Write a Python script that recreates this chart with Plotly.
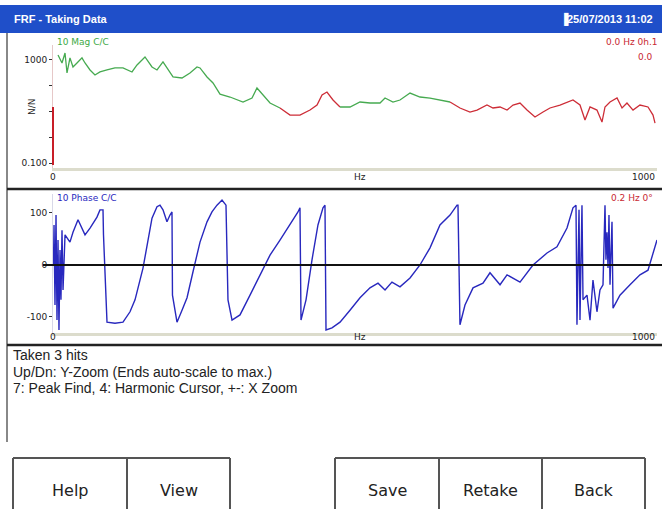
import plotly.graph_objects as go

W, H = 662, 509

# ---------------- data ----------------
mag_freq_hz = [8.3, 14.9, 19.9, 23.2, 28.1, 33.1, 39.7, 48.0, 53.0, 61.3, 69.5, 77.8, 89.4, 102.6,
               115.9, 130.8, 139.1, 152.3, 163.9, 172.2, 182.1, 190.4, 198.7, 213.6, 226.8, 238.4,
               243.4, 255.0, 259.9, 264.9, 276.5, 293.0, 314.6, 329.5, 337.7, 347.7, 359.3, 375.8,
               392.4, 408.9, 425.5, 437.1, 445.4, 453.6, 463.6, 475.2, 491.7, 508.3, 524.8, 541.4,
               549.7, 562.9, 574.5, 591.1, 607.6, 624.2, 640.7, 657.3, 673.8, 690.4, 702.0, 718.5,
               728.5, 740.1, 751.7, 761.6, 773.2, 784.8, 798.0, 811.3, 822.8, 839.4, 851.0, 860.9,
               872.5, 880.8, 889.1, 900.6, 908.9, 913.9, 922.2, 933.8, 942.1, 950.3, 960.3, 971.8,
               985.1, 993.4, 996.7]
mag_values = [1560, 764, 1870, 313, 1200, 535, 764, 1200, 764, 409, 261, 342, 409, 489,
              489, 342, 640, 1310, 535, 409, 836, 409, 219, 200, 313, 535,
              489, 219, 167, 128, 47, 36.6, 23.4, 33.4, 81.8, 43.7, 21.4, 13.7,
              7.31, 7.31, 11.4, 17.9, 43.7, 57.1, 28.0, 15.0, 15.0, 23.4, 21.4, 21.4,
              33.4, 23.4, 28.0, 52, 36.6, 33.4, 28.0, 23.4, 13.7, 9.57, 11.4, 17.9,
              13.7, 15.0, 11.4, 17.9, 21.4, 11.4, 6.11, 9.57, 13.7, 17.9, 23.4, 28.0,
              17.9, 4.68, 15.0, 11.4, 3.91, 15.0, 23.4, 33.4, 13.7, 21.4, 11.4, 17.9,
              15.0, 7.31, 3.57]
# frequency bands where the magnitude is drawn red (low coherence)
mag_red_bands_hz = [(392.4, 475.2), (673.8, 1000.0)]

phase_freq_hz = [0.8, 1.7, 3.3, 5.0, 6.6, 8.3, 9.9, 11.6, 13.2, 14.9, 16.6, 19.9, 28.1, 33.1,
                 41.4, 53.0, 61.3, 72.8, 77.8, 82.8, 83.6, 87.7, 89.4, 102.6, 115.9, 127.5,
                 135.8, 149.0, 157.3, 163.9, 172.2, 177.1, 182.1, 188.7, 193.7, 197.0, 197.8,
                 205.3, 213.6, 221.9, 231.8, 243.4, 255.0, 263.2, 271.5, 279.8, 286.4, 289.7,
                 296.4, 309.6, 326.2, 342.7, 359.3, 375.8, 392.4, 405.6, 408.9, 410.6, 418.9,
                 428.8, 438.7, 447.0, 450.3, 452.0, 461.9, 475.2, 491.7, 508.3, 524.8, 538.1,
                 549.7, 561.2, 574.5, 591.1, 607.6, 624.2, 640.7, 657.3, 668.9, 670.5, 673.8,
                 682.1, 695.4, 711.9, 723.5, 740.1, 751.7, 773.2, 794.7, 817.9, 834.4, 851.0,
                 860.9, 865.9, 867.5, 870.9, 872.5, 875.8, 877.5, 884.1, 889.1, 894.0, 900.6,
                 905.6, 910.6, 913.9, 915.5, 917.2, 918.9, 920.5, 922.2, 925.5, 927.2, 938.7,
                 955.3, 971.8, 985.1, 993.4, 996.7, 1000.0]
phase_deg = [0, 77, -77, 96, -106, 48, -125, 29, -67, 67, -48, 58, 44, 63,
             87, 58, 71, 92, 106, 106, 58, -58, -110, -112, -110, -90,
             -67, -6, 48, 90, 112, 115, 106, 83, 96, 102, -58,
             -110, -87, -63, -13, 44, 83, 102, 115, 125, 115, -67,
             -106, -96, -58, -19, 19, 48, 77, 102, 110, -106, -67,
             10, 77, 110, 115, -125, -121, -110, -87, -63, -44, -35,
             -48, -33, -42, -25, 0, 33, 77, 96, 115, 115, -115,
             -77, -44, -35, -15, -38, -19, -33, 0, 23, 35, 71,
             110, 115, -115, 106, -106, 115, -67, -58, -106, -29, -90,
             -48, -38, 115, 10, 63, -6, 96, -38, 83, -83, -58,
             -38, -19, -10, 25, 38, 48]

mag_label = "10 Mag C/C"
phase_label = "10 Phase C/C"
mag_cursor = ["0.0 Hz 0h.1", "0.0"]
phase_cursor = "0.2 Hz 0\u00b0"
y_unit = "N/N"
title_text = "FRF - Taking Data"
date_text = "25/07/2013 11:02"
info_lines = ["Taken 3 hits",
              "Up/Dn: Y-Zoom (Ends auto-scale to max.)",
              "7: Peak Find, 4: Harmonic Cursor, +-: X Zoom"]
buttons_left = ["Help", "View"]
buttons_right = ["Save", "Retake", "Back"]
x_tick_text = ["0", "Hz", "1000"]

# ---------------- helpers ----------------
def fx(px):
    return px / W

def fy(py):
    return 1 - py / H

def is_red(f):
    return any(a <= f <= b for a, b in mag_red_bands_hz)

fig = go.Figure()
# split magnitude into coloured runs (consecutive runs share their boundary point)
runs = []
cur = None
for i, f in enumerate(mag_freq_hz):
    red = is_red(f)
    if cur is None or cur[0] != red:
        start = [] if cur is None else [(cur[1][-1], cur[2][-1])]
        cur = (red, [p[0] for p in start], [p[1] for p in start])
        runs.append(cur)
    cur[1].append(f)
    cur[2].append(mag_values[i])
for red, xs, ys in runs:
    fig.add_trace(go.Scatter(x=xs, y=ys, mode="lines", xaxis="x", yaxis="y",
                             line=dict(color="rgb(205,45,55)" if red else "rgb(70,170,80)", width=1.3),
                             showlegend=False))
fig.add_trace(go.Scatter(x=phase_freq_hz, y=phase_deg, mode="lines", xaxis="x2", yaxis="y2",
                         line=dict(color="rgb(40,40,190)", width=1.4), showlegend=False))

tickfont = dict(family="DejaVu Sans", size=9, color="#222")

fig.update_layout(
    width=W, height=H, margin=dict(l=0, r=0, t=0, b=0),
    paper_bgcolor="white", plot_bgcolor="white",
    xaxis=dict(domain=[fx(53), fx(657)], range=[0, 1000], anchor="y",
               showgrid=False, zeroline=False, showticklabels=False,
               showline=True, linecolor="#dcdccc", linewidth=3),
    yaxis=dict(domain=[fy(168), fy(45)], type="log", range=[-1.19, 3.58], anchor="x",
               showgrid=False, zeroline=False, showline=True, linecolor="#e6c8c8", linewidth=1,
               tickvals=[1000, 100, 10, 1, 0.1], ticktext=["1000", "", "", "", "0.100"],
               ticks="outside", ticklen=3, tickcolor="#333", tickfont=tickfont),
    xaxis2=dict(domain=[fx(53), fx(657)], range=[0, 1000], anchor="y2",
                showgrid=False, zeroline=False, showticklabels=False,
                showline=True, linecolor="#dcdccc", linewidth=3),
    yaxis2=dict(domain=[fy(333), fy(194)], range=[-130.8, 136.5], anchor="x2",
                showgrid=False, zeroline=False, showline=True, linecolor="#d8d8e8", linewidth=1,
                tickvals=[100, 0, -100], ticktext=["100", "0", "-100"],
                ticks="outside", ticklen=3, tickcolor="#333", tickfont=tickfont),
)

shapes = []
# title bar
shapes.append(dict(type="rect", xref="paper", yref="paper", x0=0, x1=1, y0=fy(33), y1=fy(5),
                   fillcolor="#1f4fc9", line=dict(width=0), layer="below"))
# left border
shapes.append(dict(type="line", xref="paper", yref="paper", x0=fx(7), x1=fx(7), y0=fy(442), y1=fy(33),
                   line=dict(color="#888", width=2)))
# separators
for sy in (189, 345):
    shapes.append(dict(type="line", xref="paper", yref="paper", x0=fx(7), x1=1, y0=fy(sy), y1=fy(sy),
                       line=dict(color="#222", width=2.5)))
# zero line of phase plot
shapes.append(dict(type="line", xref="paper", yref="y2", x0=fx(43), x1=1, y0=0, y1=0,
                   line=dict(color="#111", width=2)))
# red part of magnitude y axis
shapes.append(dict(type="line", xref="paper", yref="y", x0=fx(53), x1=fx(53), y0=0.085, y1=15,
                   line=dict(color="rgb(200,30,40)", width=2)))
# buttons
def button_box(x0, x1):
    shapes.append(dict(type="line", xref="paper", yref="paper", x0=fx(x0), x1=fx(x1),
                       y0=fy(458), y1=fy(458), line=dict(color="#555", width=2)))
btn_left_edges = [13, 127, 230]
btn_right_edges = [335, 439, 542, 645]
button_box(btn_left_edges[0], btn_left_edges[-1])
button_box(btn_right_edges[0], btn_right_edges[-1])
for ex in btn_left_edges + btn_right_edges:
    shapes.append(dict(type="line", xref="paper", yref="paper", x0=fx(ex), x1=fx(ex),
                       y0=0, y1=fy(458), line=dict(color="#555", width=2)))
fig.update_layout(shapes=shapes)

ann = []
def text(x, y, s, size=10, color="#222", xanchor="left", family="DejaVu Sans", xref="paper", yref="paper", bold=False, **kw):
    ann.append(dict(x=x, y=y, xref=xref, yref=yref, text=("<b>%s</b>" % s if bold else s), showarrow=False,
                    xanchor=xanchor, yanchor="middle",
                    font=dict(size=size, color=color, family=family), **kw))

text(fx(12), fy(19), title_text, size=11, color="white", family="Liberation Sans", bold=True)
text(fx(558), fy(19), "\u2590", size=11, color="white", family="DejaVu Sans")
text(fx(565), fy(19), date_text, size=11, color="white", family="Liberation Sans", bold=True)

text(fx(55), fy(42), mag_label, size=9, color="rgb(60,170,70)")
text(fx(660), fy(42), mag_cursor[0], size=9, color="rgb(200,40,50)", xanchor="right")
text(fx(655), fy(57), mag_cursor[1], size=9, color="rgb(200,40,50)", xanchor="right")
text(fx(32), fy(107), y_unit, size=9, color="#222", xanchor="center", textangle=-90)

text(fx(55), fy(198), phase_label, size=9, color="rgb(40,40,190)")
text(fx(655), fy(198), phase_cursor, size=9, color="rgb(200,40,50)", xanchor="right")

for ax, ypx in (("x", 177), ("x2", 337)):
    text(0, fy(ypx), x_tick_text[0], size=9, xref=ax, xanchor="center")
    text(508, fy(ypx), x_tick_text[1], size=9, xref=ax, xanchor="center")
    text(1000, fy(ypx), x_tick_text[2], size=9, xref=ax, xanchor="right")

for i, line in enumerate(info_lines):
    text(fx(11), fy(355 + 16.5 * i), line, size=14, color="#222", family="Liberation Sans")

edges = btn_left_edges
for i, lab in enumerate(buttons_left):
    text(fx((edges[i] + edges[i + 1]) / 2), fy(490), lab, size=16, color="#222", xanchor="center")
edges = btn_right_edges
for i, lab in enumerate(buttons_right):
    text(fx((edges[i] + edges[i + 1]) / 2), fy(490), lab, size=16, color="#222", xanchor="center")

fig.update_layout(annotations=ann)
fig.write_html("out.html", config={"displayModeBar": False},
               post_script="document.body.style.margin='0';document.body.style.overflow='hidden';")
